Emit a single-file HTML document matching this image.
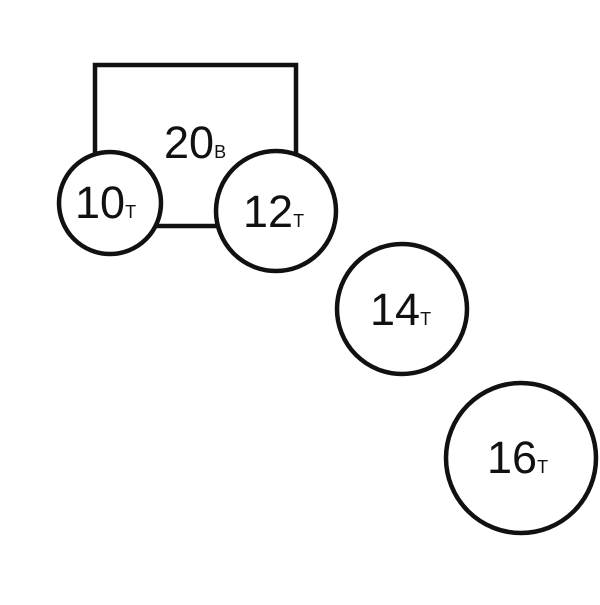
<!DOCTYPE html>
<html><head><style>html,body{margin:0;padding:0;background:#fff}</style></head>
<body>
<svg width="600" height="600" xmlns="http://www.w3.org/2000/svg" font-family="Liberation Sans, sans-serif" fill="#111">
<rect x="95" y="65" width="201" height="161" fill="#fff" stroke="#111" stroke-width="4.5"/>
<circle cx="110" cy="203" r="51" fill="#fff" stroke="#111" stroke-width="4.5"/>
<circle cx="276" cy="211" r="60" fill="#fff" stroke="#111" stroke-width="4.5"/>
<circle cx="402" cy="309" r="65" fill="#fff" stroke="#111" stroke-width="4.5"/>
<circle cx="521" cy="458" r="75" fill="#fff" stroke="#111" stroke-width="4.5"/>
<text x="164" y="158" font-size="45">20<tspan font-size="18">B</tspan></text>
<text x="75" y="218" font-size="45">10<tspan font-size="18">T</tspan></text>
<text x="243" y="227" font-size="45">12<tspan font-size="18">T</tspan></text>
<text x="370" y="325" font-size="45">14<tspan font-size="18">T</tspan></text>
<text x="487" y="473" font-size="45">16<tspan font-size="18">T</tspan></text>
</svg>
</body></html>
